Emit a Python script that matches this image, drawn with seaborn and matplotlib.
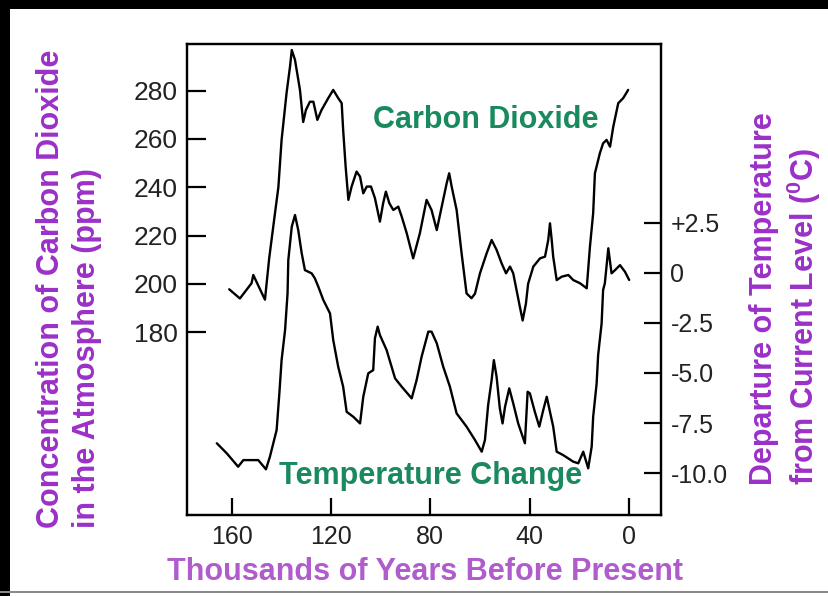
import matplotlib
matplotlib.use("Agg")
import matplotlib.pyplot as plt
from matplotlib.patches import Rectangle
import pandas as pd
import seaborn as sns

# Vostok-style record: thousands of years before present vs. CO2 (ppm)
co2_kyr = [161.0, 156.7, 152.0, 151.3, 146.6, 144.9, 142.6, 141.2, 139.9, 137.9,
           136.5, 135.8, 134.5, 132.5, 131.2, 130.1, 128.5, 127.1, 125.5, 123.8,
           121.1, 119.1, 117.1, 115.7, 115.1, 114.1, 113.0, 111.7, 109.7, 108.3,
           107.0, 105.6, 103.9, 102.3, 100.3, 99.0, 97.9, 96.5, 94.9, 92.9,
           91.5, 89.5, 86.9, 84.2, 81.5, 79.5, 77.4, 75.4, 73.4, 72.4,
           71.4, 69.4, 67.4, 65.4, 63.4, 62.0, 60.0, 57.3, 55.3, 53.3,
           51.3, 49.5, 47.9, 46.6, 43.9, 42.8, 41.5, 40.6, 38.5, 35.8,
           33.8, 32.5, 31.8, 31.1, 30.5, 29.1, 27.1, 24.4, 22.4, 19.7,
           17.0, 15.7, 14.4, 13.7, 11.7, 10.4, 9.0, 7.6, 6.3, 4.3,
           2.3, 0.3]
co2_ppm = [197.8, 194.0, 200.3, 203.7, 193.5, 210.6, 229.0, 240.0, 259.6, 279.0,
           290.0, 296.8, 292.7, 280.3, 267.0, 272.0, 275.4, 275.4, 267.9, 272.0,
           276.9, 280.3, 276.9, 274.8, 263.7, 248.5, 234.8, 240.3, 246.5, 244.4,
           237.5, 240.3, 240.3, 235.5, 225.8, 233.4, 238.2, 233.4, 230.6, 232.0,
           227.8, 221.0, 210.6, 221.0, 234.8, 230.6, 222.3, 232.0, 241.7, 245.8,
           240.3, 230.6, 212.7, 196.1, 194.1, 196.0, 204.4, 212.7, 218.2, 214.1,
           208.6, 204.4, 207.2, 204.4, 190.4, 184.9, 191.8, 200.1, 207.2, 210.6,
           211.3, 218.2, 225.1, 218.2, 211.3, 201.6, 203.0, 203.7, 201.6, 200.3,
           198.2, 215.4, 229.3, 245.8, 254.1, 258.2, 259.6, 256.8, 265.1, 274.8,
           276.9, 280.3]

# Temperature departure from current level (deg C)
temp_kyr = [166.0, 162.0, 157.4, 155.3, 149.3, 146.2, 144.6, 141.9, 140.8, 139.9,
            138.5, 137.5, 137.2, 135.8, 134.5, 133.2, 131.8, 130.5, 127.8, 126.5,
            125.1, 123.1, 120.4, 119.1, 117.1, 115.1, 113.7, 111.0, 108.3, 107.0,
            105.0, 103.0, 102.3, 101.2, 100.3, 97.6, 94.2, 91.5, 87.5, 85.5,
            83.5, 80.8, 79.5, 77.4, 74.8, 72.1, 69.4, 65.4, 62.0, 59.3,
            58.0, 56.7, 55.3, 54.4, 53.3, 52.0, 50.9, 49.9, 48.2, 46.6,
            44.6, 41.9, 40.8, 39.9, 37.9, 36.1, 34.5, 33.1, 31.8, 30.5,
            29.1, 26.5, 22.4, 20.4, 18.4, 16.4, 15.0, 14.4, 13.0, 12.4,
            11.0, 10.4, 9.7, 8.3, 7.0, 5.6, 3.6, 1.6, -0.1]
temp_dev = [-8.51, -9.01, -9.68, -9.35, -9.35, -9.81, -9.18, -7.85, -6.02, -4.36,
            -2.86, -1.03, 0.63, 2.30, 2.88, 2.13, 0.97, 0.13, -0.03, -0.28,
            -0.70, -1.36, -2.03, -3.36, -4.69, -5.69, -6.94, -7.19, -7.52, -6.19,
            -5.02, -4.86, -3.27, -2.69, -3.11, -3.86, -5.27, -5.69, -6.27, -5.35,
            -4.19, -2.94, -2.94, -3.52, -4.69, -5.69, -7.02, -7.68, -8.35, -8.93,
            -8.35, -6.60, -5.35, -4.36, -5.19, -6.77, -7.52, -6.69, -5.77, -6.52,
            -7.52, -8.51, -5.94, -6.02, -6.94, -7.68, -6.85, -6.19, -6.94, -7.68,
            -8.93, -9.10, -9.43, -9.51, -8.93, -9.76, -8.68, -7.19, -5.52, -4.11,
            -2.53, -0.86, -0.53, 1.22, -0.03, 0.13, 0.38, 0.05, -0.36]

x_ticks = [160, 120, 80, 40, 0]
co2_ticks = [180, 200, 220, 240, 260, 280]
temp_ticks = [2.5, 0.0, -2.5, -5.0, -7.5, -10.0]
temp_tick_labels = ["+2.5", "0", "-2.5", "-5.0", "-7.5", "-10.0"]

sns.set_style("white")
plt.rcParams["font.family"] = ["Liberation Sans", "DejaVu Sans"]
plt.rcParams["mathtext.fontset"] = "custom"
plt.rcParams["mathtext.rm"] = "Liberation Sans:bold"

PURPLE = "#9b30c8"
PURPLE_LIGHT = "#b05ccc"
GREEN = "#1a8a5e"

W, H = 829, 596
fig = plt.figure(figsize=(W / 100, H / 100), dpi=100)
fig.patch.set_facecolor("white")

ax_l, ax_r, ax_t, ax_b = 187.5, 660.7, 43.5, 515.0
ax = fig.add_axes([ax_l / W, 1 - ax_b / H, (ax_r - ax_l) / W, (ax_b - ax_t) / H])
ax2 = ax.twinx()

co2_df = pd.DataFrame({"kyr": co2_kyr, "ppm": co2_ppm})
temp_df = pd.DataFrame({"kyr": temp_kyr, "dev": temp_dev})

sns.lineplot(data=co2_df, x="kyr", y="ppm", ax=ax, color="black",
             linewidth=1.7, estimator=None, sort=False)
sns.lineplot(data=temp_df, x="kyr", y="dev", ax=ax2, color="black",
             linewidth=1.7, estimator=None, sort=False)

ax.set_xlim(177.8, -12.8)
ax.set_ylim(104.4, 299.5)
ax2.set_ylim(-12.09, 11.44)

ax.set_xticks(x_ticks)
ax.set_xticklabels([str(v) for v in x_ticks])
ax.set_yticks(co2_ticks)
ax.set_yticklabels([str(v) for v in co2_ticks])
ax2.set_yticks(temp_ticks)
ax2.set_yticklabels(temp_tick_labels)

ax.set_xlabel("")
ax.set_ylabel("")
ax2.set_ylabel("")

for a in (ax, ax2):
    for s in a.spines.values():
        s.set_visible(True)
        s.set_color("black")
        s.set_linewidth(1.6)

ax.tick_params(axis="y", direction="in", length=14, width=1.6, pad=7,
               labelsize=19, colors="black", left=True, right=False)
ax.tick_params(axis="x", direction="in", length=12.5, width=1.6, pad=7,
               labelsize=18, colors="black", bottom=True)
ax2.tick_params(axis="y", direction="in", length=12, width=1.6, pad=7,
                labelsize=18, colors="black", right=True, left=False)
for lab in ax.get_yticklabels() + ax.get_xticklabels() + ax2.get_yticklabels():
    lab.set_color("#222222")

# series captions
ax.text(57.6, 267.9, "Carbon Dioxide", color=GREEN, fontsize=22,
        fontweight="bold", ha="center", va="center")
ax2.text(79.7, -10.14, "Temperature Change", color=GREEN, fontsize=22,
         fontweight="bold", ha="center", va="center")

# axis titles
fig.text(69 / W, 1 - 528 / H,
         "Concentration of Carbon Dioxide\nin the Atmosphere (ppm)",
         rotation=90, ha="center", va="bottom", multialignment="left",
         color=PURPLE, fontsize=22, fontweight="bold", linespacing=1.22)
fig.text(786 / W, 1 - 485 / H,
         "Departure of Temperature\nfrom Current Level ($^0$C)",
         rotation=90, ha="center", va="bottom", multialignment="left",
         color=PURPLE, fontsize=22, fontweight="bold", linespacing=1.18)
fig.text(425 / W, 1 - 572 / H, "Thousands of Years Before Present",
         ha="center", va="center", color=PURPLE_LIGHT, fontsize=22,
         fontweight="bold")

# outer frame
fig.add_artist(Rectangle((0, 0), 10 / W, 1, transform=fig.transFigure,
                         facecolor="black", edgecolor="none"))
fig.add_artist(Rectangle((0, 1 - 9 / H), 1, 9 / H, transform=fig.transFigure,
                         facecolor="black", edgecolor="none"))
fig.add_artist(Rectangle((0, 1 - 593 / H), 1, 2 / H, transform=fig.transFigure,
                         facecolor="#8a8a8a", edgecolor="none"))

fig.savefig("out.png", dpi=100, facecolor="white")
